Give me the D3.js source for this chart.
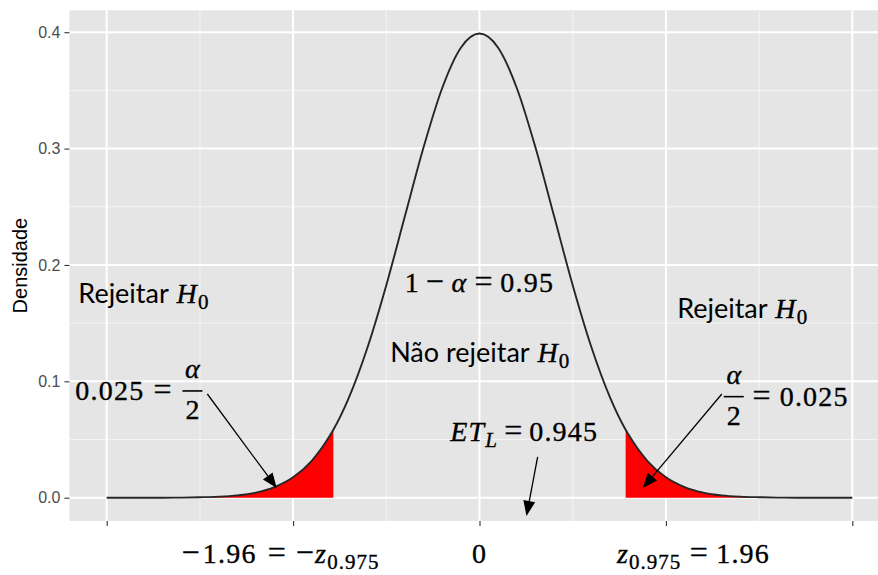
<!DOCTYPE html>
<html>
<head>
    <meta charset="utf-8">
    <title>Teste bilateral - regiões de rejeição</title>
    <script src="https://d3js.org/d3.v7.min.js"></script>
    <style>
        body { margin: 0; background: #ffffff; }
        svg { display: block; }
        .ytick text { font-family: 'Liberation Sans', Arial, sans-serif; font-size: 16px; fill: #4d4d4d; }
        .tick line { stroke: #333333; stroke-width: 1.1px; }
        .math { font-family: 'Liberation Serif', 'Times New Roman', serif; fill: #000; stroke: #000; stroke-width: 0.35px; letter-spacing: 1.2px; }
        .lbl { font-family: 'Lato', 'Open Sans', sans-serif; fill: #000; stroke: none; letter-spacing: 0; }
    </style>
</head>
<body>
<div id="chart"></div>
<script>
// density of the curve (z, density)
const zVals = [-5, -4.75, -4.5, -4.25, -4, -3.75, -3.5, -3.25, -3, -2.75, -2.5, -2.25, -2, -1.96,
    -1.75, -1.5, -1.25, -1, -0.75, -0.5, -0.25, 0, 0.25, 0.5, 0.75, 1, 1.25, 1.5, 1.75,
    1.96, 2, 2.25, 2.5, 2.75, 3, 3.25, 3.5, 3.75, 4, 4.25, 4.5, 4.75, 5];
const density = [0.0000, 0.0000, 0.0000, 0.0000, 0.0001, 0.0004, 0.0009, 0.0020, 0.0044, 0.0091, 0.0175, 0.0317, 0.0540, 0.0584,
    0.0863, 0.1295, 0.1826, 0.2420, 0.3011, 0.3521, 0.3867, 0.3989, 0.3867, 0.3521, 0.3011, 0.2420, 0.1826, 0.1295, 0.0863,
    0.0584, 0.0540, 0.0317, 0.0175, 0.0091, 0.0044, 0.0020, 0.0009, 0.0004, 0.0001, 0.0000, 0.0000, 0.0000, 0.0000];

const critical = 1.96;
const xBreaks = [-5, -2.5, 0, 2.5, 5];
const xMinor = [-3.75, -1.25, 1.25, 3.75];
const yBreaks = [0, 0.1, 0.2, 0.3, 0.4];
const yMinor = [0.05, 0.15, 0.25, 0.35];
const yTitle = 'Densidade';

const width = 878, height = 575;
const panel = { left: 69.4, right: 889.6, top: 10.3, bottom: 520.9 };

const pts = zVals.map((z, i) => ({ z: z, d: density[i] }));

// ggplot style 5% expansion
const xExt = d3.extent(zVals);
const xPad = 0.05 * (xExt[1] - xExt[0]);
const x = d3.scaleLinear([xExt[0] - xPad, xExt[1] + xPad], [panel.left, panel.right]);
const yMax = d3.max(density);
const y = d3.scaleLinear([-0.05 * yMax, yMax * 1.05], [panel.bottom, panel.top]);

const svg = d3.select('#chart').append('svg')
    .attr('width', width)
    .attr('height', height);

// panel background + grid
svg.append('rect')
    .attr('x', panel.left).attr('y', panel.top)
    .attr('width', panel.right - panel.left).attr('height', panel.bottom - panel.top)
    .attr('fill', '#e5e5e5');

const grid = svg.append('g');
grid.selectAll('.vmin').data(xMinor).enter().append('line')
    .attr('x1', d => x(d)).attr('x2', d => x(d))
    .attr('y1', panel.top).attr('y2', panel.bottom)
    .attr('stroke', '#f4f4f4').attr('stroke-width', 1);
grid.selectAll('.hmin').data(yMinor).enter().append('line')
    .attr('y1', d => y(d)).attr('y2', d => y(d))
    .attr('x1', panel.left).attr('x2', panel.right)
    .attr('stroke', '#f4f4f4').attr('stroke-width', 1);
grid.selectAll('.vmaj').data(xBreaks).enter().append('line')
    .attr('x1', d => x(d)).attr('x2', d => x(d))
    .attr('y1', panel.top).attr('y2', panel.bottom)
    .attr('stroke', '#ffffff').attr('stroke-width', 2);
grid.selectAll('.hmaj').data(yBreaks).enter().append('line')
    .attr('y1', d => y(d)).attr('y2', d => y(d))
    .attr('x1', panel.left).attr('x2', panel.right)
    .attr('stroke', '#ffffff').attr('stroke-width', 2);

// red tails
const area = d3.area()
    .x(d => x(d.z)).y0(y(0)).y1(d => y(d.d))
    .curve(d3.curveMonotoneX);
svg.append('path').datum(pts.filter(p => p.z <= -critical))
    .attr('d', area).attr('fill', '#ff0000');
svg.append('path').datum(pts.filter(p => p.z >= critical))
    .attr('d', area).attr('fill', '#ff0000');

// density curve
const line = d3.line().x(d => x(d.z)).y(d => y(d.d)).curve(d3.curveMonotoneX);
svg.append('path').datum(pts)
    .attr('d', line)
    .attr('fill', 'none')
    .attr('stroke', '#262626')
    .attr('stroke-width', 1.9);

// axes
const yAxis = svg.append('g')
    .attr('class', 'ytick')
    .attr('transform', `translate(${panel.left},0)`)
    .call(d3.axisLeft(y).tickValues(yBreaks).tickFormat(d3.format('.1f')).tickSize(5).tickPadding(4));
yAxis.select('.domain').remove();

const xAxis = svg.append('g')
    .attr('transform', `translate(0,${panel.bottom})`)
    .call(d3.axisBottom(x).tickValues(xBreaks).tickFormat('').tickSize(5));
xAxis.select('.domain').remove();

svg.append('text')
    .attr('transform', `translate(26.5,${(panel.top + panel.bottom) / 2}) rotate(-90)`)
    .attr('text-anchor', 'middle')
    .attr('font-family', "'Liberation Sans', Arial, sans-serif")
    .attr('font-size', 20)
    .text(yTitle);

// ---- annotations ----
const M = 28;          // math size
const OP = 32;         // operators (= and −) are wide in the original
const SUB = 21;        // subscript size

// tokens: {t, it, sub, op, dx (em), sans}
function eq(px, py, tokens, anchor) {
    const t = svg.append('text')
        .attr('x', px).attr('y', py)
        .attr('text-anchor', anchor || 'start')
        .attr('font-size', M)
        .attr('class', 'math');
    let shifted = false;
    tokens.forEach(tk => {
        const s = t.append('tspan').text(tk.t);
        let dy = 0;
        if (tk.sub && !shifted) { dy = 6; shifted = true; }
        if (!tk.sub && shifted) { dy = -6; shifted = false; }
        if (dy) s.attr('dy', dy);
        if (tk.dx) s.attr('dx', tk.dx * M);
        if (tk.sub) s.attr('font-size', SUB).style('letter-spacing', '1px');
        if (tk.op) s.attr('font-size', OP).style('letter-spacing', '0px');
        if (tk.it) s.attr('font-style', 'italic');
        if (tk.sans) s.attr('class', 'lbl').attr('font-size', 27);
    });
    return t;
}

function frac(cx, bar) {
    svg.append('line')
        .attr('x1', cx - 10).attr('x2', cx + 10)
        .attr('y1', bar).attr('y2', bar)
        .attr('stroke', '#000').attr('stroke-width', 1.6);
    svg.append('text').attr('class', 'math').attr('font-size', M)
        .attr('font-style', 'italic').attr('text-anchor', 'middle')
        .style('letter-spacing', '0px')
        .attr('x', cx).attr('y', bar - 13).text('α');
    svg.append('text').attr('class', 'math').attr('font-size', M)
        .attr('text-anchor', 'middle')
        .style('letter-spacing', '0px')
        .attr('x', cx).attr('y', bar + 28).text('2');
}

function arrow(z1, d1, z2, d2) {
    const x1 = x(z1), y1 = y(d1), x2 = x(z2), y2 = y(d2);
    const ang = Math.atan2(y2 - y1, x2 - x1);
    const L = 15, W = 6;
    const bx = x2 - L * Math.cos(ang), by = y2 - L * Math.sin(ang);
    svg.append('line')
        .attr('x1', x1).attr('y1', y1).attr('x2', bx).attr('y2', by)
        .attr('stroke', '#000').attr('stroke-width', 1.3);
    const nx = -Math.sin(ang) * W, ny = Math.cos(ang) * W;
    svg.append('path')
        .attr('d', `M${x2},${y2}L${bx + nx},${by + ny}L${bx - nx},${by - ny}Z`)
        .attr('fill', '#000');
}

const H0 = [{ t: 'H', it: 1, dx: 0.05 }, { t: '0', sub: 1 }];

// left reject region
eq(x(-5.38), y(0.1673), [{ t: 'Rejeitar ', sans: 1 }].concat(H0));
eq(x(-5.42), y(0.0840), [{ t: '0.025' }, { t: '=', op: 1, dx: 0.33 }]);
frac(x(-3.85), y(0.0840) - 9);
arrow(-3.65, 0.0891, -2.72, 0.0083);

// centre
eq(x(0), y(0.1771), [{ t: '1' }, { t: '−', op: 1, dx: 0.2 }, { t: 'α', it: 1, dx: 0.28 },
    { t: '=', op: 1, dx: 0.25 }, { t: '0.95', dx: 0.28 }], 'middle');
eq(x(0.01), y(0.1169), [{ t: 'Não rejeitar ', sans: 1 }].concat(H0), 'middle');
eq(x(0.60), y(0.0490), [{ t: 'ET', it: 1 }, { t: 'L', it: 1, sub: 1 },
    { t: '=', op: 1, dx: 0.22 }, { t: '0.945', dx: 0.25 }], 'middle');
arrow(0.78, 0.0350, 0.63, -0.0157);

// right reject region
eq(x(3.53), y(0.1545), [{ t: 'Rejeitar ', sans: 1 }].concat(H0), 'middle');
frac(x(3.41), y(0.0791) - 9);
eq(x(3.66), y(0.0791), [{ t: '=', op: 1 }, { t: '0.025', dx: 0.33 }]);
arrow(3.25, 0.0891, 2.19, 0.0083);

// x labels under the axis
const labY = 563;
eq(x(-2.67), labY, [{ t: '−', op: 1 }, { t: '1.96', dx: 0.12 }, { t: '=', op: 1, dx: 0.4 }, { t: '−', op: 1, dx: 0.35 },
    { t: 'z', it: 1, dx: 0.05 }, { t: '0.975', sub: 1 }], 'middle');
eq(x(0), labY, [{ t: '0' }], 'middle');
eq(x(2.87), labY, [{ t: 'z', it: 1 }, { t: '0.975', sub: 1 }, { t: '=', op: 1, dx: 0.3 }, { t: '1.96', dx: 0.3 }], 'middle');
</script>
</body>
</html>
